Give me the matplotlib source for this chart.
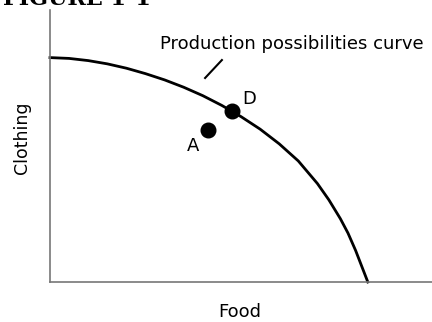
import matplotlib
matplotlib.use("Agg")
import matplotlib.pyplot as plt

# production possibilities frontier, food (x) vs clothing (y)
ppf_food = [0.0, 0.5, 1.0, 1.5, 2.0, 2.5, 3.0, 3.5, 4.0, 4.5, 5.0, 5.5,
            6.0, 6.5, 7.0, 7.3, 7.6, 7.8, 8.0, 8.16, 8.32]
ppf_clothing = [8.25, 8.22, 8.14, 8.02, 7.86, 7.66, 7.43, 7.16, 6.85, 6.49, 6.08, 5.62,
                5.08, 4.45, 3.62, 3.02, 2.33, 1.80, 1.16, 0.58, 0.0]

point_names = ["D", "A"]
point_food = [4.76, 4.14]
point_clothing = [6.27, 5.59]
label_offsets = [(17, 12), (-15, -16)]  # pixels

fig = plt.figure(figsize=(4.32, 3.22), dpi=100)
ax = fig.add_axes([50 / 432, 40 / 322, 382 / 432, 272 / 322])
ax.set_xlim(0, 10)
ax.set_ylim(0, 10)

ax.plot(ppf_food, ppf_clothing, color="black", lw=2.0, solid_joinstyle="round", clip_on=False)
ax.plot(point_food, point_clothing, "o", color="black", ms=10.5, ls="none")

for name, x, y, off in zip(point_names, point_food, point_clothing, label_offsets):
    ax.annotate(name, (x, y), xytext=off, textcoords="offset pixels",
                fontsize=13, ha="center", va="center")

# leader line from label to curve
ax.plot([4.50, 4.06], [8.16, 7.50], color="black", lw=1.5, clip_on=False)
fig.text(292 / 432, 1 - 44 / 322, "Production possibilities curve", fontsize=13,
         ha="center", va="center")

fig.text(240 / 432, 1 - 312 / 322, "Food", fontsize=13, ha="center", va="center")
fig.text(22 / 432, 1 - 138 / 322, "Clothing", fontsize=12.5, rotation=90,
         ha="center", va="center")

ax.set_xticks([])
ax.set_yticks([])
for side in ["top", "right"]:
    ax.spines[side].set_visible(False)
for side in ["left", "bottom"]:
    ax.spines[side].set_color("#777777")
    ax.spines[side].set_linewidth(1.2)

fig.text(3 / 432, 1 - 5 / 322, "FIGURE 1-1", fontsize=16, fontweight="bold",
         family="DejaVu Serif", ha="left", va="baseline")

fig.savefig("out.png", dpi=100)
